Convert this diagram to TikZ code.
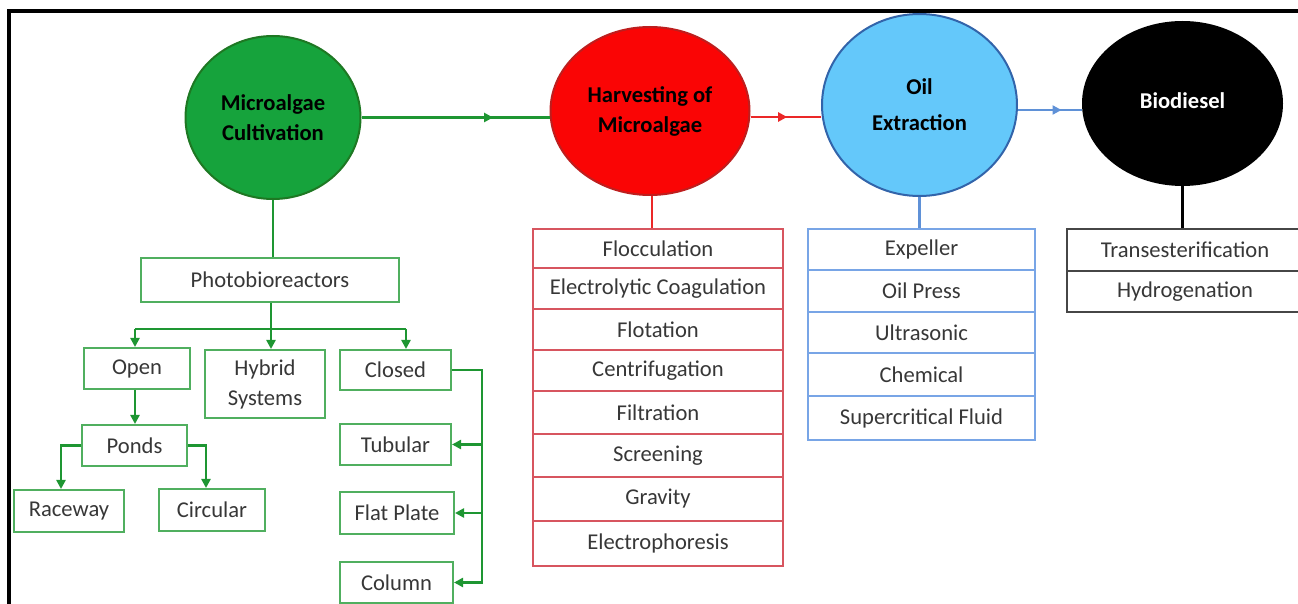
\documentclass[tikz,border=0pt]{standalone}
\usepackage{fontspec}
\setmainfont{Carlito}
\usetikzlibrary{shapes.geometric,arrows.meta,decorations.markings}
\definecolor{gfill}{RGB}{22,163,60}
\definecolor{gdraw}{RGB}{30,120,35}
\definecolor{gline}{RGB}{30,150,50}
\definecolor{gboxc}{RGB}{80,175,95}
\definecolor{rfill}{RGB}{250,5,5}
\definecolor{rdraw}{RGB}{190,30,30}
\definecolor{rline}{RGB}{235,40,40}
\definecolor{rboxc}{RGB}{215,85,95}
\definecolor{bfill}{RGB}{100,200,250}
\definecolor{bdraw}{RGB}{50,100,170}
\definecolor{bline}{RGB}{95,145,215}
\definecolor{bboxc}{RGB}{120,165,230}
\definecolor{kboxc}{RGB}{70,70,70}
\definecolor{txt}{RGB}{55,55,55}
\begin{document}
\begin{tikzpicture}[x=0.5pt,y=-0.5pt,
  font=\fontsize{11.3}{15}\selectfont,
  bubble/.style={ellipse, inner sep=0pt, line width=1pt, font=\fontsize{11.3}{15}\selectfont\bfseries, align=center},
  cell/.style={rectangle, line width=1pt, text=txt, inner sep=0pt, align=center},
  gbox/.style={cell, draw=gboxc},
  rbox/.style={cell, draw=rboxc, minimum width=125pt},
  bbox/.style={cell, draw=bboxc, minimum width=113.5pt},
  kbox/.style={cell, draw=kboxc, minimum width=118pt},
  conn/.style={line width=1.4pt},
  tipped/.style={-{Triangle[length=4.5pt,width=4.5pt]}},
  midarrow/.style={postaction={decorate}, decoration={markings, mark=at position #1 with {\arrow{Triangle[length=4.5pt,width=4.5pt]}}}},
  frameline/.style={line width=2pt, black}
]
\useasboundingbox (0,0) rectangle (1298,604);
\clip (0,0) rectangle (1298,604);

% frame
\draw[frameline] (9,606) -- (9,11) -- (1302,11);

% main stages
\node[bubble, fill=gfill, draw=gdraw, minimum width=87.5pt, minimum height=81.5pt] (cult) at (273,117.5) {Microalgae\\Cultivation};
\node[bubble, fill=rfill, draw=rdraw, minimum width=99.5pt, minimum height=84pt] (harv) at (650,111) {Harvesting of\\Microalgae};
\node[bubble, fill=bfill, draw=bdraw, minimum width=97.5pt, minimum height=91pt, font=\fontsize{11.3}{18}\selectfont\bfseries] (oil) at (919.5,105) {Oil\\Extraction};
\node[bubble, fill=black, draw=black, text=white, minimum width=99.5pt, minimum height=81.5pt] (bio) at (1182.5,103.5) {\raisebox{3pt}{Biodiesel}};

\draw[conn, color=gline, midarrow=0.7] (cult.east) -- (cult.east -| harv.west);
\draw[conn, color=rline, midarrow=0.52] (harv.east |- 0,117) -- (oil.west |- 0,117);
\draw[conn, color=bline, midarrow=0.68] (oil.east |- 0,110) -- (bio.west |- 0,110);

% cultivation tree
\node[gbox, minimum width=129pt, minimum height=22pt] (pb) at (270,280) {Photobioreactors};
\node[gbox, minimum width=53pt, minimum height=20.5pt] (open) at (137,368.5) {Open};
\node[gbox, minimum width=60pt, minimum height=34pt] (hyb) at (265,384) {Hybrid\\Systems};
\node[gbox, minimum width=55.5pt, minimum height=20pt] (closed) at (395.5,370) {Closed};
\node[gbox, minimum width=52.5pt, minimum height=20.5pt] (ponds) at (134.5,445.5) {Ponds};
\node[gbox, minimum width=55pt, minimum height=21pt] (race) at (69,511) {Raceway};
\node[gbox, minimum width=53pt, minimum height=21pt] (circ) at (212,510) {Circular};
\node[gbox, minimum width=55.5pt, minimum height=20.5pt] (tub) at (395.5,444.5) {Tubular};
\node[gbox, minimum width=57pt, minimum height=21pt] (flat) at (397,513) {Flat Plate};
\node[gbox, minimum width=56.5pt, minimum height=20.5pt] (col) at (396.5,582.5) {Column};

\coordinate (bar) at (271,329);
\coordinate (barL) at (135,329);
\coordinate (barR) at (406,329);
\draw[conn, color=gline] (cult.south) -- (cult.south |- pb.north);
\draw[conn, color=gline] (pb.south -| bar) -- (bar);
\draw[conn, color=gline] (barL) -- (barR);
\draw[conn, color=gline, tipped] (barL) -- (barL |- open.north);
\draw[conn, color=gline, tipped] (bar) -- (bar |- hyb.north);
\draw[conn, color=gline, tipped] (barR) -- (barR |- closed.north);
\draw[conn, color=gline, tipped] (barL |- open.south) -- (barL |- ponds.north);
\draw[conn, color=gline, tipped] (ponds.west) -| ([xshift=-4pt]race.north);
\draw[conn, color=gline, tipped] (ponds.east) -| ([xshift=-3pt]circ.north);
\coordinate (bus) at (482,370);
\draw[conn, color=gline, tipped] (closed.east) -- (bus) -- (bus |- col.east) -- (col.east);
\draw[conn, color=gline, tipped] (bus |- tub.east) -- (tub.east);
\draw[conn, color=gline, tipped] (bus |- flat.east) -- (flat.east);

% harvesting list
\node[rbox, minimum height=19.5pt] (r1) at (658,248.5) {Flocculation};
\node[rbox, minimum height=20.5pt] (r2) at (658,288.5) {Electrolytic Coagulation};
\node[rbox, minimum height=20.5pt] (r3) at (658,329.5) {Flotation};
\node[rbox, minimum height=20.5pt] (r4) at (658,370.5) {Centrifugation};
\node[rbox, minimum height=21.5pt] (r5) at (658,412.5) {Filtration};
\node[rbox, minimum height=21.5pt] (r6) at (658,455.5) {Screening};
\node[rbox, minimum height=22pt] (r7) at (658,499) {Gravity};
\node[rbox, minimum height=22.5pt] (r8) at (658,543.5) {Electrophoresis};
\draw[conn, color=rline] (harv.south -| 652,0) -- (652,0 |- r1.north);

% oil extraction list
\node[bbox, minimum height=20.5pt] (b1) at (921.5,249.5) {Expeller};
\node[bbox, minimum height=21pt] (b2) at (921.5,291) {Oil Press};
\node[bbox, minimum height=20.5pt] (b3) at (921.5,332.5) {Ultrasonic};
\node[bbox, minimum height=21.5pt] (b4) at (921.5,374.5) {Chemical};
\node[bbox, minimum height=22pt] (b5) at (921.5,418) {Supercritical Fluid};
\draw[conn, color=bline] (oil.south) -- (oil.south |- b1.north);

% biodiesel list
\node[kbox, minimum height=21pt] (k1) at (1185,250) {Transesterification};
\node[kbox, minimum height=20.5pt] (k2) at (1185,291.5) {Hydrogenation};
\draw[conn, color=black] (bio.south) -- (bio.south |- k1.north);
\end{tikzpicture}
\end{document}
